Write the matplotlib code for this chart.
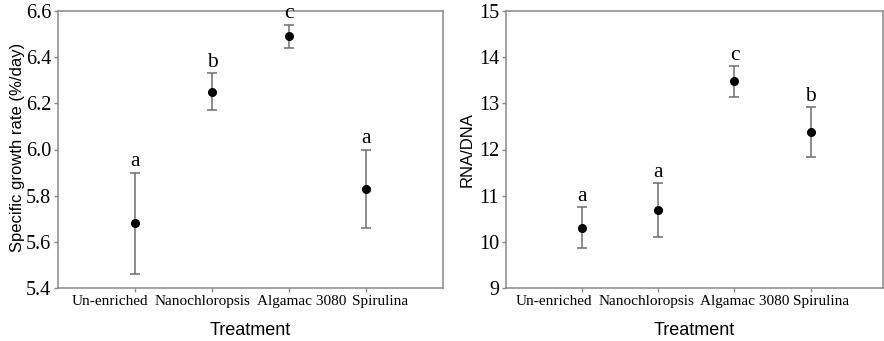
import matplotlib.pyplot as plt
import matplotlib.transforms as mtransforms

treatments = ['Un-enriched', 'Nanochloropsis', 'Algamac 3080', 'Spirulina']
sgr_mean = [5.68, 6.25, 6.49, 5.83]
sgr_low = [5.46, 6.17, 6.44, 5.66]
sgr_high = [5.90, 6.33, 6.54, 6.00]
sgr_letters = ['a', 'b', 'c', 'a']

rna_mean = [10.31, 10.70, 13.49, 12.38]
rna_low = [9.87, 10.10, 13.14, 11.84]
rna_high = [10.75, 11.27, 13.80, 12.92]
rna_letters = ['a', 'a', 'c', 'b']

serif = 'Liberation Serif'
sans = 'Liberation Sans'
grey = '#8a8a8a'

fig = plt.figure(figsize=(8.84, 3.41), dpi=100)
ax1 = fig.add_axes([58/884, 1-288/341, (443-58)/884, 277/341])
ax2 = fig.add_axes([506/884, 1-288/341, (883-506)/884, 277/341])


def panel(ax, mean, low, high, letters, ylim, yticks, yfmt, ylabel, xmax, label_x):
    x = list(range(1, len(mean) + 1))
    err = [[m - l for m, l in zip(mean, low)], [h - m for m, h in zip(mean, high)]]
    ax.errorbar(x, mean, yerr=err, fmt='o', color='black', ms=5.5,
                ecolor='#6e6e6e', elinewidth=1.1, capsize=3.5, capthick=1.1)
    for xi, h, t in zip(x, high, letters):
        ax.annotate(t, (xi, h), xytext=(0, 1), textcoords='offset points',
                    ha='center', va='bottom', fontsize=15.5, family=serif)
    ax.set_xlim(0, xmax)
    ax.set_ylim(*ylim)
    ax.set_xticks(x)
    ax.set_xticklabels([])
    # category names sit a little off their ticks in the original
    trans = mtransforms.blended_transform_factory(ax.transData, ax.transAxes)
    for lx, t in zip(label_x, treatments):
        ax.text(lx, -0.05, t, transform=trans, ha='center', va='center',
                fontsize=11, family=serif)
    ax.set_yticks(yticks)
    ax.set_yticklabels([yfmt.format(v) for v in yticks], fontsize=14.5, family=serif)
    ax.tick_params(axis='both', color=grey, length=3, width=1)
    ax.tick_params(axis='y', pad=2)
    for s in ax.spines.values():
        s.set_color(grey)
        s.set_linewidth(1.1)
    ax.set_xlabel('Treatment', fontsize=13, family=sans)
    ax.xaxis.set_label_coords(0.5, -0.152)
    ax.xaxis.label.set_va('center')
    ax.set_ylabel(ylabel, fontsize=12, family=sans)


panel(ax1, sgr_mean, sgr_low, sgr_high, sgr_letters, (5.4, 6.6),
      [5.4, 5.6, 5.8, 6.0, 6.2, 6.4, 6.6], '{:.1f}', 'Specific growth rate (%/day)',
      5.0, [0.67, 1.88, 3.17, 4.18])
panel(ax2, rna_mean, rna_low, rna_high, rna_letters, (9, 15),
      [9, 10, 11, 12, 13, 14, 15], '{:.0f}', 'RNA/DNA',
      4.95, [0.63, 1.84, 3.14, 4.14])

ax1.yaxis.set_label_coords(-40/385, 0.507)
ax1.yaxis.label.set_va('center')
ax2.yaxis.set_label_coords(-39/377, 0.50)
ax2.yaxis.label.set_va('center')

fig.savefig('out.png', dpi=100)
